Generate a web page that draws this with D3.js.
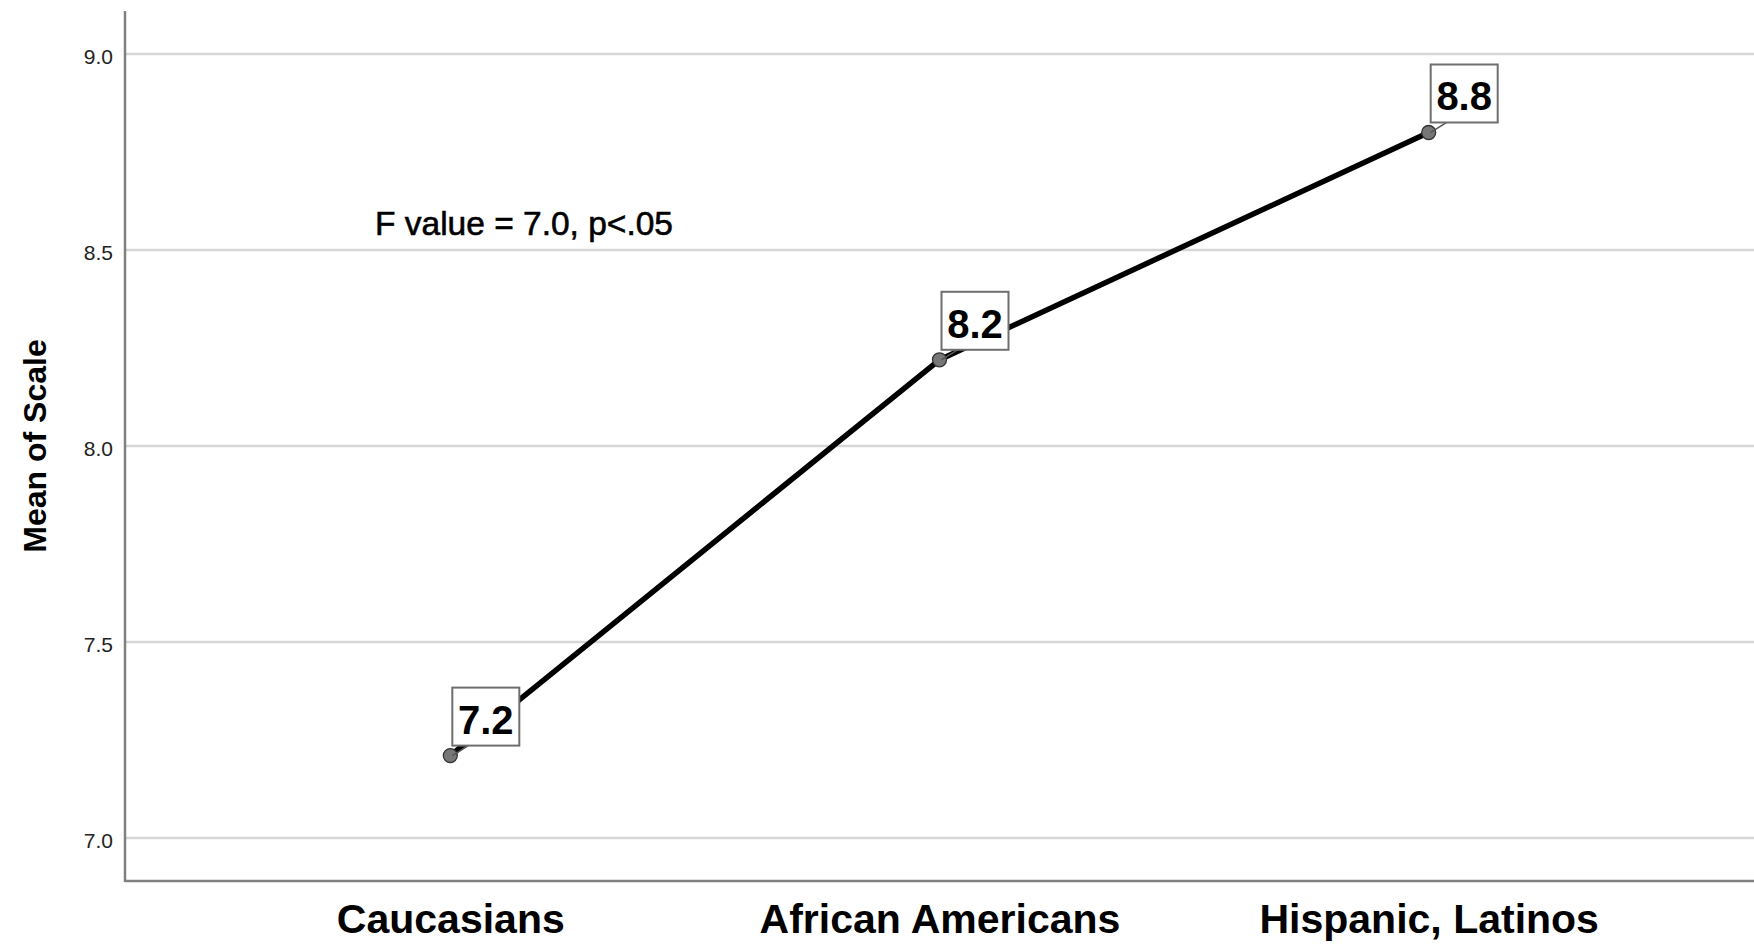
<!DOCTYPE html>
<html>
<head>
<meta charset="utf-8">
<script src="https://cdn.jsdelivr.net/npm/d3@7"></script>
<style>
  html, body { margin: 0; padding: 0; background: #fff; }
  svg { display: block; }
</style>
</head>
<body>
<div id="chart"></div>
<script>
// data
var categories = ["Caucasians", "African Americans", "Hispanic, Latinos"];
var means = [7.21, 8.22, 8.80];
var meanLabels = ["7.2", "8.2", "8.8"];
var yTicks = [7.0, 7.5, 8.0, 8.5, 9.0];
var yDomain = [6.89, 9.11];
var note = "F value = 7.0, p<.05";
var yTitle = "Mean of Scale";

var width = 1754, height = 951;
// note: plain "top" clashes with window.top, so the edges get a prefix
var plotLeft = 125, plotRight = 1754, plotTop = 11, plotBottom = 881;
var fontName = "'Liberation Sans', Arial, sans-serif";

var svg = d3.select("#chart").append("svg")
  .attr("width", width)
  .attr("height", height)
  .attr("viewBox", "0 0 " + width + " " + height);

var x = d3.scalePoint()
  .domain(categories)
  .range([plotLeft, plotRight])
  .padding(0.665);

var y = d3.scaleLinear()
  .domain(yDomain)
  .range([plotBottom, plotTop]);

// horizontal grid lines
svg.append("g")
  .selectAll("line")
  .data(yTicks)
  .enter().append("line")
    .attr("x1", plotLeft)
    .attr("x2", plotRight)
    .attr("y1", function(d) { return y(d); })
    .attr("y2", function(d) { return y(d); })
    .attr("stroke", "#d6d6d6")
    .attr("stroke-width", 2.5);

// y axis, labels only
var yAxis = svg.append("g")
  .attr("transform", "translate(" + plotLeft + ",0)")
  .call(d3.axisLeft(y).tickValues(yTicks).tickFormat(d3.format(".1f")).tickSize(0).tickPadding(12));
yAxis.select(".domain").remove();
yAxis.selectAll("text")
  .attr("font-family", fontName)
  .attr("font-size", "21px")
  .attr("dy", "0.45em")
  .attr("fill", "#222");

// x axis, category names
var xAxis = svg.append("g")
  .attr("transform", "translate(0," + plotBottom + ")")
  .call(d3.axisBottom(x).tickSize(0).tickPadding(0));
xAxis.select(".domain").remove();
xAxis.selectAll("text")
  .attr("font-family", fontName)
  .attr("font-size", "41px")
  .attr("font-weight", "bold")
  .attr("fill", "#000")
  .attr("y", 52)
  .attr("dy", 0);

// axis frame lines
svg.append("line")
  .attr("x1", plotLeft).attr("x2", plotLeft)
  .attr("y1", plotTop).attr("y2", plotBottom + 1)
  .attr("stroke", "#808080")
  .attr("stroke-width", 2.5);
svg.append("line")
  .attr("x1", plotLeft).attr("x2", plotRight)
  .attr("y1", plotBottom).attr("y2", plotBottom)
  .attr("stroke", "#808080")
  .attr("stroke-width", 2.5);

// y title
svg.append("text")
  .attr("transform", "translate(46," + ((plotTop + plotBottom) / 2) + ") rotate(-90)")
  .attr("text-anchor", "middle")
  .attr("font-family", fontName)
  .attr("font-size", "32px")
  .attr("font-weight", "bold")
  .attr("fill", "#000")
  .text(yTitle);

// annotation
svg.append("text")
  .attr("x", 375)
  .attr("y", 235)
  .attr("font-family", fontName)
  .attr("font-size", "33.5px")
  .attr("fill", "#000")
  .style("stroke", "#000")
  .style("stroke-width", 0.6)
  .text(note);

var points = categories.map(function(c, i) {
  return { cat: c, value: means[i], label: meanLabels[i] };
});

// mean line
var line = d3.line()
  .x(function(d) { return x(d.cat); })
  .y(function(d) { return y(d.value); });

svg.append("path")
  .datum(points)
  .attr("d", line)
  .attr("fill", "none")
  .attr("stroke", "#000")
  .attr("stroke-width", 5.5);

svg.append("g")
  .selectAll("circle")
  .data(points)
  .enter().append("circle")
    .attr("cx", function(d) { return x(d.cat); })
    .attr("cy", function(d) { return y(d.value); })
    .attr("r", 7)
    .attr("fill", "#777")
    .attr("stroke", "#333")
    .attr("stroke-width", 1.3);

// value boxes, anchored just up and right of each point
var boxW = 67, boxH = 58;
var labels = svg.append("g")
  .selectAll("g")
  .data(points)
  .enter().append("g")
    .attr("transform", function(d) {
      return "translate(" + (x(d.cat) + 2) + "," + (y(d.value) - 10 - boxH) + ")";
    });

labels.append("line")
  .attr("x1", 0).attr("y1", boxH + 10)
  .attr("x2", 16).attr("y2", boxH)
  .attr("stroke", "#555")
  .attr("stroke-width", 1.5);

labels.append("rect")
  .attr("width", boxW)
  .attr("height", boxH)
  .attr("fill", "#fff")
  .attr("stroke", "#6e6e6e")
  .attr("stroke-width", 2);

labels.append("text")
  .attr("x", boxW / 2)
  .attr("y", 46)
  .attr("text-anchor", "middle")
  .attr("font-family", fontName)
  .attr("font-size", "40px")
  .attr("font-weight", "bold")
  .attr("fill", "#000")
  .text(function(d) { return d.label; });
</script>
</body>
</html>
